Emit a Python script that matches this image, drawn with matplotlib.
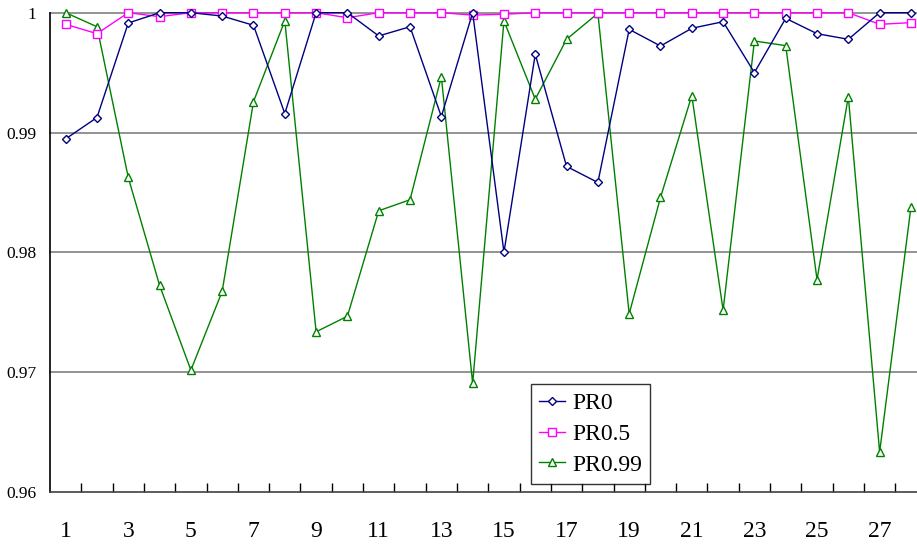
import numpy as np
import matplotlib
matplotlib.use("Agg")
import matplotlib.pyplot as plt

# === Data ===
runs = list(range(1, 29))
pr0 = [0.98947, 0.99125, 0.99914, 1.0, 1.0, 0.99972, 0.99895, 0.99158, 1.0, 1.0,
       0.99806, 0.99883, 0.99133, 1.0, 0.98000, 0.99653, 0.98717, 0.98583, 0.99861, 0.99722,
       0.99870, 0.99925, 0.99500, 0.99953, 0.99825, 0.99778, 1.0, 1.0]
pr05 = [0.99903, 0.99825, 1.0, 0.99967, 1.0, 1.0, 1.0, 1.0, 1.0, 0.99958,
        1.0, 1.0, 1.0, 0.99980, 0.99987, 1.0, 1.0, 1.0, 1.0, 1.0,
        1.0, 1.0, 1.0, 1.0, 1.0, 1.0, 0.99903, 0.99917]
pr099 = [1.0, 0.99883, 0.98625, 0.97725, 0.97017, 0.97675, 0.99258, 0.99933, 0.97337, 0.97467,
         0.98347, 0.98439, 0.99467, 0.96906, 0.99931, 0.99278, 0.99778, 0.99995, 0.97487, 0.98458,
         0.99308, 0.97517, 0.99764, 0.99725, 0.97773, 0.99300, 0.96333, 0.98378]
y_ticks = [0.96, 0.97, 0.98, 0.99, 1.0]
y_labels = ["0.96", "0.97", "0.98", "0.99", "1"]

plt.rcParams['font.family'] = ['Liberation Serif', 'DejaVu Serif']

W, H = 917, 546
fig = plt.figure(figsize=(W / 100, H / 100), dpi=100)
# plot area runs off the right edge, as in the reference
ax = fig.add_axes([50 / W, 54 / H, 876.6 / W, 479.3 / H])

x = np.arange(1, 29)
ax.plot(x, pr0, color='#000080', lw=1.0, marker='D', ms=4.5, mfc='white',
        mec='#000080', mew=1.0, label='PR0', clip_on=False, zorder=4)
ax.plot(x, pr05, color='#FF00FF', lw=1.0, marker='s', ms=6, mfc='white',
        mec='#FF00FF', mew=1.0, label='PR0.5', clip_on=False, zorder=3)
ax.plot(x, pr099, color='#008000', lw=1.0, marker='^', ms=6, mfc='white',
        mec='#008000', mew=1.0, label='PR0.99', clip_on=False, zorder=2)

ax.set_xlim(0.5, 28.5)
ax.set_ylim(0.96, 1.0)

ax.set_yticks(y_ticks)
ax.set_yticklabels(y_labels, fontsize=12.5)
ax.tick_params(axis='y', length=0, pad=10)
for v in y_ticks[1:]:
    ax.axhline(v, color='#808080', lw=1.2, zorder=1, clip_on=False)

ax.set_xticks(np.arange(1.5, 28.5, 1.0), minor=False)
ax.set_xticklabels([])
ax.set_xticks(np.arange(1, 29, 2), minor=True)
ax.set_xticklabels([str(r) for r in runs[::2]], minor=True, fontsize=17)
ax.tick_params(axis='x', which='major', direction='in', length=6.5, width=1.0, color='black')
ax.tick_params(axis='x', which='minor', length=0, pad=21)

for s in ['top', 'right']:
    ax.spines[s].set_visible(False)
ax.spines['left'].set_color('black')
ax.spines['bottom'].set_color('#404040')
ax.spines['left'].set_linewidth(1.2)
ax.spines['bottom'].set_linewidth(1.2)

leg = ax.legend(loc='upper left', bbox_to_anchor=(481 / 876.6, (492 - 384) / 479.3),
                fontsize=17, frameon=True, fancybox=False, edgecolor='black',
                handlelength=1.1, handletextpad=0.3, borderpad=0.35, labelspacing=0.4,
                borderaxespad=0)
leg.get_frame().set_linewidth(1.0)
leg.set_zorder(10)

plt.savefig("out.png", dpi=100, facecolor='white')
